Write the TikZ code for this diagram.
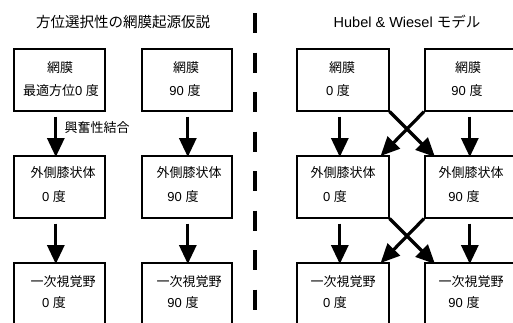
\documentclass[tikz,border=0pt]{standalone}
\usepackage{fontspec}
\setmainfont{Liberation Sans}
\newfontfamily\jp{Noto Sans CJK JP}
\usetikzlibrary{arrows.meta}
\tikzset{
  box/.style={draw, line width=1.6pt, anchor=north west, inner sep=0pt},
  txt/.style={font=\fontsize{13}{15}\selectfont, inner sep=0pt},
  ttl/.style={font=\fontsize{14.5}{16}\selectfont, inner sep=0pt},
  arr/.style={line width=3.2pt, -{Triangle[length=19pt,width=17pt]}},
  divider/.style={line width=4pt, dash pattern=on 20pt off 19.5pt}
}
\begin{document}
\begin{tikzpicture}[x=1pt,y=-1pt]
\useasboundingbox (0,0) rectangle (513,322);
\clip (0,0) rectangle (513,322);
% titles
\node[ttl] (t1) at (123,22) {\jp 方位選択性の網膜起源仮説};
\node[ttl] (t2) at (407,22) {Hubel \& Wiesel {\jp モデル}};
% divider
\coordinate (d1) at (255,13);
\coordinate (d2) at (255,310);
\draw[divider] (d1) -- (d2);
% boxes
\foreach \n/\x/\w in {A/13/91, B/141/90, C/296/92, D/424/92}{
  \node[box, minimum width=\w pt, minimum height=62pt] (\n1) at (\x,48) {};
  \node[box, minimum width=\w pt, minimum height=62pt] (\n2) at (\x,155) {};
  \node[box, minimum width=\w pt, minimum height=90pt] (\n3) at (\x,262) {};
}
% texts row 1
\node[txt] (a1a) at (60,68) {\jp 網膜};
\node[txt] (a1b) at (61,91) {{\jp 最適方位}0 {\jp 度}};
\node[txt] (b1a) at (186,68) {\jp 網膜};
\node[txt] (b1b) at (185,91) {90 {\jp 度}};
\node[txt] (c1a) at (342,68) {\jp 網膜};
\node[txt] (c1b) at (338,91) {0 {\jp 度}};
\node[txt] (d1a) at (468,68) {\jp 網膜};
\node[txt] (d1b) at (467,91) {90 {\jp 度}};
% texts row 2
\node[txt] (a2a) at (63,173) {\jp 外側膝状体};
\node[txt] (a2b) at (54,197) {0 {\jp 度}};
\node[txt] (b2a) at (189,173) {\jp 外側膝状体};
\node[txt] (b2b) at (183,197) {90 {\jp 度}};
\node[txt] (c2a) at (343,173) {\jp 外側膝状体};
\node[txt] (c2b) at (335,197) {0 {\jp 度}};
\node[txt] (d2a) at (471,173) {\jp 外側膝状体};
\node[txt] (d2b) at (464,197) {90 {\jp 度}};
% texts row 3
\node[txt] (a3a) at (63,282) {\jp 一次視覚野};
\node[txt] (a3b) at (54,303) {0 {\jp 度}};
\node[txt] (b3a) at (189,282) {\jp 一次視覚野};
\node[txt] (b3b) at (183,303) {90 {\jp 度}};
\node[txt] (c3a) at (343,282) {\jp 一次視覚野};
\node[txt] (c3b) at (335,303) {0 {\jp 度}};
\node[txt] (d3a) at (471,282) {\jp 一次視覚野};
\node[txt] (d3b) at (464,303) {90 {\jp 度}};
% label
\node[txt] (exc) at (97,128) {\jp 興奮性結合};
% straight arrows
\foreach \n/\dx in {A/-3.5, B/1, C/-3, D/-1}{
  \draw[arr] ([xshift=\dx pt, yshift=-5pt]\n1.south) -- ([xshift=\dx pt, yshift=-2pt]\n2.north);
  \draw[arr] ([xshift=\dx pt, yshift=-5pt]\n2.south) -- ([xshift=\dx pt, yshift=-2pt]\n3.north);
}
% crossing arrows
\draw[arr] (C1.south east) -- ([xshift=11pt, yshift=-2pt]D2.north west);
\draw[arr] (D1.south west) -- ([xshift=-9pt, yshift=-1pt]C2.north east);
\draw[arr] (C2.south east) -- ([xshift=11pt, yshift=-2pt]D3.north west);
\draw[arr] (D2.south west) -- ([xshift=-9pt, yshift=-1pt]C3.north east);
\end{tikzpicture}
\end{document}
